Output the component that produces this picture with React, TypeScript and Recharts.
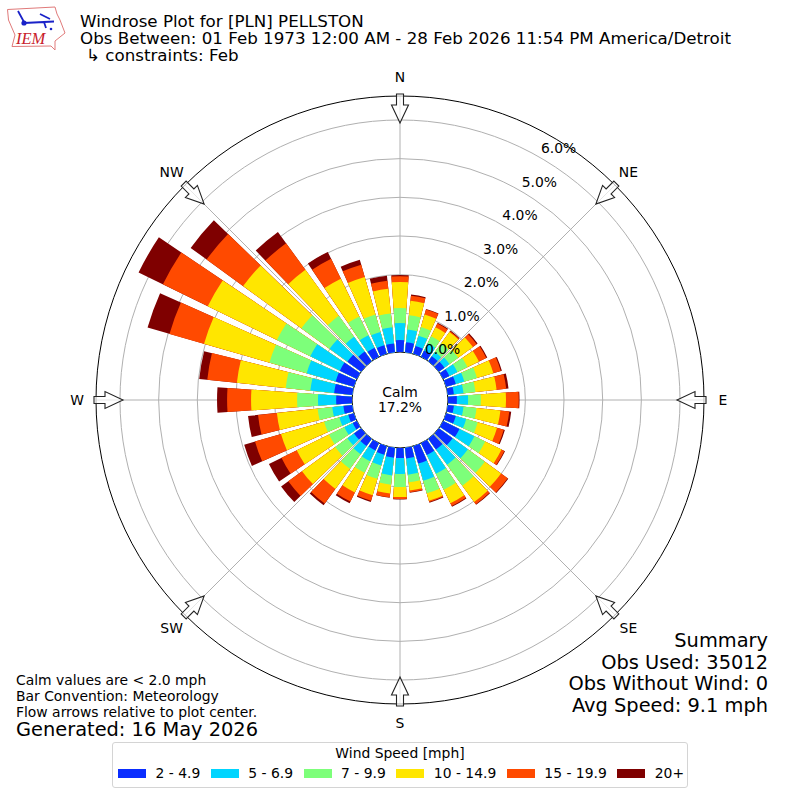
import { Legend, PolarAngleAxis, PolarGrid, PolarRadiusAxis, Radar, RadarChart, Sector } from "recharts";

const FONT = "DejaVu Sans";

const directions = [0, 10, 20, 30, 40, 50, 60, 70, 80, 90, 100, 110, 120, 130, 140, 150, 160, 170, 180, 190, 200, 210, 220, 230, 240, 250, 260, 270, 280, 290, 300, 310, 320, 330, 340, 350];

// cumulative frequency [%] at the top of each speed class, per direction
const upTo5 = [0.31, 0.26, 0.21, 0.18, 0.16, 0.18, 0.18, 0.26, 0.16, 0.23, 0.16, 0.26, 0.47, 0.44, 0.34, 0.34, 0.47, 0.28, 0.26, 0.26, 0.23, 0.21, 0.23, 0.23, 0.12, 0.15, 0.23, 0.41, 0.47, 0.49, 0.49, 0.44, 0.31, 0.26, 0.23, 0.23];
const upTo7 = [0.75, 0.59, 0.49, 0.39, 0.29, 0.34, 0.41, 0.49, 0.41, 0.52, 0.41, 0.54, 0.9, 0.93, 0.83, 0.88, 0.93, 0.7, 0.67, 0.72, 0.52, 0.52, 0.49, 0.44, 0.36, 0.39, 0.52, 0.88, 1.09, 1.27, 1.34, 1.01, 0.78, 0.62, 0.59, 0.65];
const upTo10 = [1.14, 0.96, 0.72, 0.59, 0.57, 0.62, 0.7, 0.83, 0.72, 0.85, 0.75, 0.85, 1.21, 1.47, 1.5, 1.34, 1.27, 0.9, 1.01, 0.96, 0.88, 0.85, 0.96, 0.83, 0.8, 0.8, 0.9, 1.42, 1.73, 2.27, 2.3, 1.91, 1.45, 1.16, 1.06, 1.01];
const upTo15 = [1.81, 1.34, 1.06, 0.85, 0.93, 1.09, 1.03, 1.27, 1.27, 1.5, 1.37, 1.37, 1.68, 1.99, 2.02, 1.73, 1.47, 1.11, 1.27, 1.19, 1.32, 1.42, 1.6, 1.89, 1.73, 1.96, 1.96, 2.61, 3.0, 4.03, 4.29, 3.77, 2.92, 2.25, 2.07, 1.65];
const upTo20 = [1.96, 1.47, 1.19, 0.96, 0.96, 1.21, 1.24, 1.47, 1.52, 1.83, 1.6, 1.55, 1.76, 2.2, 2.09, 1.81, 1.5, 1.16, 1.32, 1.29, 1.47, 1.68, 2.07, 2.33, 2.17, 2.66, 2.45, 3.23, 3.77, 4.96, 5.58, 4.94, 3.77, 2.82, 2.4, 1.86];
const upToMax = [1.99, 1.5, 1.21, 0.98, 0.98, 1.24, 1.27, 1.5, 1.58, 1.85, 1.65, 1.58, 1.78, 2.22, 2.11, 1.83, 1.52, 1.17, 1.33, 1.3, 1.5, 1.73, 2.12, 2.56, 2.53, 2.95, 2.71, 3.49, 3.98, 5.55, 6.28, 5.45, 4.13, 3.02, 2.53, 1.99];

const speedLabels = ["2 - 4.9", "5 - 6.9", "7 - 9.9", "10 - 14.9", "15 - 19.9", "20+"];
const speedColors = ["#0a2dff", "#00d5ff", "#7dff7a", "#ffe600", "#ff4a00", "#7f0000"];
const speedKeys = ["upTo5", "upTo7", "upTo10", "upTo15", "upTo20", "upToMax"];

const compassTicks = [0, 45, 90, 135, 180, 225, 270, 315];
const compassLabels = ["N", "NE", "E", "SE", "S", "SW", "W", "NW"];
const freqTicks = [0, 1, 2, 3, 4, 5, 6];

const data = directions.map((dir, i) => ({
  dir,
  upTo5: upTo5[i],
  upTo7: upTo7[i],
  upTo10: upTo10[i],
  upTo15: upTo15[i],
  upTo20: upTo20[i],
  upToMax: upToMax[i],
}));

const HOLE = 48;
const BAR_HALF = 4;

// each class is drawn from the hole outward, largest first, so smaller ones paint over
function windBars(color: string) {
  return (props: any) => (
    <g>
      {props.points.map((p: any) => (
        <Sector
          key={p.angle}
          cx={p.cx}
          cy={p.cy}
          innerRadius={HOLE}
          outerRadius={p.radius}
          startAngle={p.angle + BAR_HALF}
          endAngle={p.angle - BAR_HALF}
          fill={color}
          stroke="none"
        />
      ))}
    </g>
  );
}

function CompassTick(props: any) {
  const { x, y, payload, cx, cy } = props;
  const deg = payload.value;
  const label = compassLabels[compassTicks.indexOf(deg)];
  const centerX = cx ?? 400;
  const centerY = cy ?? 400;
  return (
    <g>
      <polygon
        transform={`rotate(${deg} ${centerX} ${centerY})`}
        points={`${centerX - 3.5},${centerY - 306} ${centerX + 3.5},${centerY - 306} ${centerX + 3.5},${centerY - 295} ${centerX + 8.5},${centerY - 295} ${centerX},${centerY - 277} ${centerX - 8.5},${centerY - 295} ${centerX - 3.5},${centerY - 295}`}
        fill="#ffffff"
        fillOpacity={0.7}
        stroke="#222222"
        strokeWidth={1.1}
      />
      <text x={x} y={y} textAnchor="middle" dominantBaseline="central" fontSize={13.9} fontFamily={FONT} fill="#000000">
        {label}
      </text>
    </g>
  );
}

function FreqTick(props: any) {
  const { x, y, payload } = props;
  return (
    <text x={x + 1} y={y - 4} textAnchor="start" fontSize={13.9} fontFamily={FONT} fill="#000000">
      {`${payload.value.toFixed(1)}%`}
    </text>
  );
}

function SpeedLegend() {
  return (
    <div
      style={{
        width: 576,
        height: 46,
        boxSizing: "border-box",
        border: "1px solid #d4d4d4",
        borderRadius: 3,
        background: "#ffffff",
        fontFamily: FONT,
        fontSize: 13.9,
        color: "#000000",
        textAlign: "center",
        lineHeight: "16px",
        paddingTop: 2,
      }}
    >
      <div>Wind Speed [mph]</div>
      <div style={{ display: "flex", marginTop: 4, paddingLeft: 5 }}>
        {speedLabels.map((label, i) => (
          <div key={label} style={{ display: "flex", alignItems: "center", marginRight: i === 5 ? 0 : 10.5 }}>
            <span style={{ display: "inline-block", width: 28, height: 9, background: speedColors[i], marginRight: 9.5 }} />
            {label}
          </div>
        ))}
      </div>
    </div>
  );
}

function Logo() {
  return (
    <g>
      <path
        d="M7.5 9.5 L55 7 L57 14 L60 20 L65 33 L55 41 L55 50 L51 46 L12 46.5 L15 35 L8.5 20 Z"
        fill="#ffffff"
        stroke="#e07a7a"
        strokeWidth={1}
      />
      <path d="M24 23 L54 21.5 M44 22 L46 28 M18 11 L24 22 M40 14 L50 19" stroke="#1a22c8" strokeWidth={1.8} fill="none" />
      <circle cx={24} cy={23} r={2.6} fill="#1a22c8" />
      <circle cx={51} cy={29} r={1.3} fill="#1a22c8" />
      <text x={16} y={44} fontFamily="Liberation Serif" fontStyle="italic" fontSize={16.5} fill="#c8202a">
        IEM
      </text>
    </g>
  );
}

export default function App() {
  return (
    <div style={{ position: "absolute", left: 0, top: 0, width: 800, height: 800, background: "#ffffff" }}>
      <RadarChart
        width={800}
        height={800}
        data={data}
        cx={400}
        cy={400}
        innerRadius={HOLE}
        outerRadius={304}
        margin={{ top: 0, right: 0, bottom: 0, left: 0 }}
      >
        {[5, 4, 3, 2, 1, 0].map((i) => (
          <Radar
            key={speedKeys[i]}
            dataKey={speedKeys[i]}
            name={speedLabels[i]}
            fill={speedColors[i]}
            stroke="none"
            shape={windBars(speedColors[i])}
            isAnimationActive={false}
          />
        ))}
        <PolarAngleAxis
          dataKey="dir"
          type="number"
          domain={[0, 360]}
          ticks={compassTicks as any}
          axisLineType="circle"
          axisLine={{ stroke: "#000000", strokeWidth: 1 }}
          tickLine={false}
          tickSize={19}
          tick={CompassTick}
        />
        <PolarGrid gridType="circle" stroke="#b0b0b0" strokeWidth={1} />
        <PolarRadiusAxis
          angle={60}
          domain={[0, 6.62]}
          allowDecimals
          ticks={freqTicks as any}
          axisLine={false}
          tickLine={false}
          tick={FreqTick}
        />
        <circle cx={400} cy={400} r={HOLE} fill="#ffffff" stroke="#000000" strokeWidth={1} />
        <text x={400} y={397} textAnchor="middle" fontFamily={FONT} fontSize={13.9}>Calm</text>
        <text x={400} y={412} textAnchor="middle" fontFamily={FONT} fontSize={13.9}>17.2%</text>

        <Logo />
        <text fontFamily={FONT} fontSize={16.7} fill="#000000">
          <tspan x={80} y={26.5}>Windrose Plot for [PLN] PELLSTON</tspan>
          <tspan x={80} y={44}>Obs Between: 01 Feb 1973 12:00 AM - 28 Feb 2026 11:54 PM America/Detroit</tspan>
          <tspan x={86} y={61}>↳ constraints: Feb</tspan>
        </text>
        <text fontFamily={FONT} fontSize={19.4} fill="#000000" textAnchor="end">
          <tspan x={768} y={646.5}>Summary</tspan>
          <tspan x={768} y={668.5}>Obs Used: 35012</tspan>
          <tspan x={768} y={689.5}>Obs Without Wind: 0</tspan>
          <tspan x={768} y={712}>Avg Speed: 9.1 mph</tspan>
        </text>
        <text fontFamily={FONT} fontSize={13.9} fill="#000000">
          <tspan x={16} y={685}>Calm values are &lt; 2.0 mph</tspan>
          <tspan x={16} y={701}>Bar Convention: Meteorology</tspan>
          <tspan x={16} y={717}>Flow arrows relative to plot center.</tspan>
        </text>
        <text x={16} y={736} fontFamily={FONT} fontSize={19.4} fill="#000000">Generated: 16 May 2026</text>

        <Legend content={SpeedLegend} wrapperStyle={{ position: "absolute", left: 112, top: 742, width: 576, height: 46 }} />
      </RadarChart>
    </div>
  );
}
